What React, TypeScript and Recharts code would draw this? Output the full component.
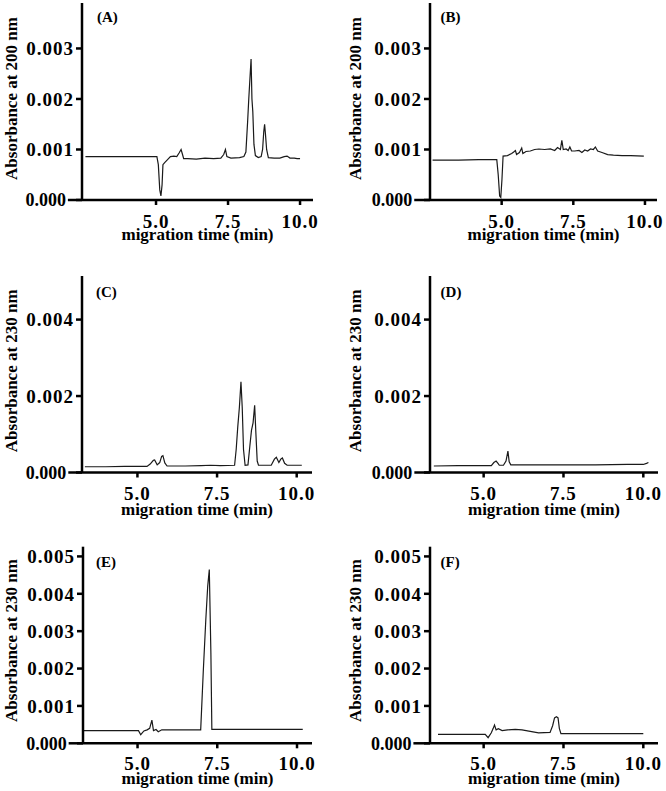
import React from 'react';
import { LineChart, Line, XAxis, YAxis, ReferenceLine } from 'recharts';

// ---------- data (migration time in min, absorbance) ----------
const timeA = [2.55, 3.2, 4.0, 4.6, 5.03, 5.08, 5.13, 5.17, 5.21, 5.24, 5.3, 5.4, 5.5, 5.62, 5.72, 5.8, 5.87, 5.92, 5.96, 6.1, 6.4, 6.7, 7.0, 7.25, 7.35, 7.41, 7.46, 7.6, 7.9, 8.05, 8.12, 8.18, 8.22, 8.26, 8.3, 8.33, 8.36, 8.4, 8.45, 8.55, 8.65, 8.7, 8.74, 8.77, 8.8, 8.84, 8.9, 9.1, 9.3, 9.45, 9.55, 9.65, 9.8, 9.9, 10.0];
const absA = [0.00086, 0.00086, 0.00086, 0.00086, 0.00086, 0.0007, 0.0002, 0.00008, 0.0003, 0.0007, 0.00074, 0.0008, 0.00086, 0.00087, 0.00086, 0.00093, 0.001, 0.0009, 0.00082, 0.00082, 0.00081, 0.00083, 0.00082, 0.00083, 0.0009, 0.001, 0.00086, 0.00083, 0.00084, 0.00086, 0.00095, 0.00155, 0.002, 0.0024, 0.00279, 0.002, 0.00175, 0.0011, 0.00088, 0.00084, 0.00086, 0.001, 0.00135, 0.0015, 0.0013, 0.001, 0.00084, 0.00083, 0.00083, 0.00086, 0.00087, 0.00083, 0.00083, 0.00082, 0.00082];

const timeB = [2.59, 3.5, 4.2, 4.83, 4.88, 4.93, 4.97, 5.01, 5.05, 5.2, 5.35, 5.42, 5.48, 5.52, 5.62, 5.7, 5.74, 5.85, 6.0, 6.15, 6.3, 6.5, 6.7, 6.85, 6.95, 7.05, 7.1, 7.15, 7.25, 7.32, 7.38, 7.44, 7.55, 7.7, 7.8, 7.9, 8.0, 8.1, 8.2, 8.27, 8.35, 8.5, 8.7, 8.9, 9.2, 9.5, 9.96];
const absB = [0.00079, 0.00079, 0.0008, 0.0008, 0.0005, 0.00008, 0.00005, 0.0004, 0.00087, 0.00088, 0.00092, 0.00095, 0.00098, 0.0009, 0.00094, 0.00103, 0.00092, 0.00096, 0.00097, 0.001, 0.00101, 0.001, 0.00101, 0.00098, 0.00104, 0.001, 0.00118, 0.001, 0.00101, 0.00098, 0.00105, 0.00097, 0.00097, 0.00098, 0.00094, 0.00099, 0.00097, 0.00101, 0.001, 0.00105, 0.00097, 0.00094, 0.0009, 0.00089, 0.00088, 0.00088, 0.00087];

const timeC = [3.35, 4.0, 4.6, 5.3, 5.4, 5.5, 5.54, 5.62, 5.7, 5.76, 5.8, 5.86, 5.93, 6.5, 7.0, 7.3, 7.6, 8.05, 8.1, 8.15, 8.2, 8.25, 8.29, 8.33, 8.38, 8.47, 8.53, 8.58, 8.63, 8.68, 8.72, 8.76, 8.8, 9.2, 9.3, 9.36, 9.44, 9.5, 9.55, 9.62, 9.7, 10.16];
const absC = [0.00015, 0.00015, 0.00016, 0.00016, 0.00022, 0.00032, 0.00033, 0.0002, 0.00026, 0.00042, 0.00044, 0.00025, 0.00017, 0.00017, 0.00018, 0.00019, 0.00018, 0.00019, 0.0006, 0.0012, 0.0017, 0.00237, 0.0017, 0.0006, 0.00019, 0.0002, 0.0007, 0.0011, 0.0013, 0.00176, 0.001, 0.0003, 0.00019, 0.00019, 0.00035, 0.0004, 0.00026, 0.00035, 0.00038, 0.00024, 0.00019, 0.00019];

const timeD = [3.44, 4.2, 5.24, 5.32, 5.39, 5.45, 5.49, 5.62, 5.7, 5.76, 5.8, 5.85, 6.6, 7.5, 8.5, 9.5, 10.0, 10.1, 10.16];
const absD = [0.00017, 0.00018, 0.00018, 0.00026, 0.0003, 0.00024, 0.00019, 0.00019, 0.0003, 0.00056, 0.00028, 0.0002, 0.0002, 0.0002, 0.0002, 0.00021, 0.00021, 0.00024, 0.00026];

const timeE = [3.29, 4.2, 5.03, 5.1, 5.2, 5.3, 5.38, 5.45, 5.5, 5.58, 5.65, 5.76, 6.2, 6.98, 7.06, 7.14, 7.2, 7.25, 7.3, 7.33, 8.5, 10.18];
const absE = [0.00034, 0.00034, 0.00034, 0.00023, 0.00033, 0.00036, 0.0004, 0.00062, 0.00034, 0.00037, 0.00031, 0.00036, 0.00036, 0.00036, 0.0019, 0.0033, 0.0042, 0.00465, 0.0024, 0.00037, 0.00037, 0.00037];

const timeF = [3.57, 4.5, 5.05, 5.14, 5.24, 5.3, 5.34, 5.39, 5.46, 5.58, 5.75, 5.99, 6.2, 6.46, 6.72, 7.08, 7.16, 7.22, 7.28, 7.33, 7.37, 7.42, 8.5, 10.0];
const absF = [0.00024, 0.00024, 0.00024, 0.00015, 0.00028, 0.0004, 0.00049, 0.00036, 0.00039, 0.00034, 0.00036, 0.00037, 0.00036, 0.00032, 0.00028, 0.00029, 0.00047, 0.00068, 0.00071, 0.00068, 0.0004, 0.00026, 0.00026, 0.00026];

const xTicks = [5, 7.5, 10];
const yTicks200 = [0, 0.001, 0.002, 0.003];
const yTicks230a = [0, 0.002, 0.004];
const yTicks230b = [0, 0.001, 0.002, 0.003, 0.004, 0.005];
const panelNames = ['(A)', '(B)', '(C)', '(D)', '(E)', '(F)'];
const yTitles = ['Absorbance at 200 nm', 'Absorbance at 230 nm'];
const xTitle = 'migration time (min)';

// ---------- layout ----------
const FONT = '"Liberation Serif", "Times New Roman", Times, serif';

type Cfg = {
  name: string; yTitle: string; times: number[]; values: number[];
  left: number; top: number; width: number; height: number;
  mTop: number; mRight: number; yW: number; xH: number;
  xMin: number; xMax: number; ext: number; yMax: number; yTicks: number[];
  titleBase: number; xTickMargin: number; yLabX: number; yLabDy: number; pDx: number; pDy: number;
};

const panels: Cfg[] = [
  { name: panelNames[0], yTitle: yTitles[0], times: timeA, values: absA, left: 0, top: 0, width: 333, height: 260, mTop: 3, mRight: 20, yW: 82, xH: 60, xMin: 2.43, xMax: 10.45, ext: 1.94, yMax: 0.0039, yTicks: yTicks200, titleBase: 40, xTickMargin: 10, yLabX: 16.5, yLabDy: -3, pDx: 15, pDy: 19 },
  { name: panelNames[1], yTitle: yTitles[0], times: timeB, values: absB, left: 333, top: 0, width: 333, height: 260, mTop: 3, mRight: 9, yW: 97, xH: 60, xMin: 2.5, xMax: 10.42, ext: 1.95, yMax: 0.0039, yTicks: yTicks200, titleBase: 40, xTickMargin: 10, yLabX: 28.3, yLabDy: -3, pDx: 10.6, pDy: 19 },
  { name: panelNames[2], yTitle: yTitles[1], times: timeC, values: absC, left: 0, top: 260, width: 333, height: 265, mTop: 16, mRight: 21, yW: 82, xH: 52.5, xMin: 3.26, xMax: 10.48, ext: 2.83, yMax: 0.00514, yTicks: yTicks230a, titleBase: 42.5, xTickMargin: 9, yLabX: 16.5, yLabDy: -3.5, pDx: 14, pDy: 21 },
  { name: panelNames[3], yTitle: yTitles[1], times: timeD, values: absD, left: 333, top: 260, width: 333, height: 265, mTop: 16, mRight: 8, yW: 97, xH: 52.5, xMin: 3.32, xMax: 10.46, ext: 2.83, yMax: 0.00514, yTicks: yTicks230a, titleBase: 42.5, xTickMargin: 9, yLabX: 28.3, yLabDy: -3.5, pDx: 10.6, pDy: 21 },
  { name: panelNames[4], yTitle: yTitles[1], times: timeE, values: absE, left: 0, top: 525, width: 333, height: 266, mTop: 21.7, mRight: 21, yW: 83, xH: 47.7, xMin: 3.29, xMax: 10.47, ext: 2.84, yMax: 0.00526, yTicks: yTicks230b, titleBase: 40.2, xTickMargin: 8, yLabX: 16.5, yLabDy: -4.5, pDx: 13, pDy: 20 },
  { name: panelNames[5], yTitle: yTitles[1], times: timeF, values: absF, left: 333, top: 525, width: 333, height: 266, mTop: 21.7, mRight: 8, yW: 97, xH: 47.7, xMin: 3.32, xMax: 10.46, ext: 2.8, yMax: 0.00526, yTicks: yTicks230b, titleBase: 40.2, xTickMargin: 8, yLabX: 28.3, yLabDy: -4.5, pDx: 10.6, pDy: 20 },
];

const tickStyle = { fill: '#000', fontSize: 19, fontWeight: 'bold', fontFamily: FONT, letterSpacing: 1 };
const Y_TICK_SIZE = 6;
const Y_TICK_MARGIN = 2;

function YTick(props: any) {
  const { x, y, payload, cfg } = props;
  const v = payload.value as number;
  const label = v.toFixed(3);
  if (v === 0) {
    // zero label sits left of the x-axis line's extension
    const plotW = cfg.width - cfg.yW - cfg.mRight;
    const extPx = ((cfg.xMin - cfg.ext) / (cfg.xMax - cfg.xMin)) * plotW;
    const axisX = x + Y_TICK_SIZE + Y_TICK_MARGIN;
    return (
      <text x={axisX - extPx - 2} y={y} dy="0.355em" textAnchor="end" fill="#000"
        style={{ fontFamily: FONT, fontSize: 18, fontWeight: 'bold' }}>{label}</text>
    );
  }
  return (
    <text x={x} y={y} dy="0.355em" textAnchor="end" fill="#000"
      style={{ fontFamily: FONT, fontSize: 19, fontWeight: 'bold', letterSpacing: 1 }}>{label}</text>
  );
}

function Panel({ cfg }: { cfg: Cfg }) {
  const data = cfg.times.map((t, i) => ({ t, v: cfg.values[i] }));
  const xLabel = (p: any) => {
    const vb = p.viewBox || {};
    return (
      <text x={vb.x + vb.width / 2} y={vb.y + cfg.titleBase} textAnchor="middle" fill="#000"
        style={{ fontFamily: FONT, fontSize: 17, fontWeight: 'bold' }}>{xTitle}</text>
    );
  };
  const yLabel = (p: any) => {
    const vb = p.viewBox || {};
    const lx = vb.x + cfg.yLabX;
    const cy = vb.y + vb.height / 2 + cfg.yLabDy;
    return (
      <g>
        <text x={lx} y={cy} transform={`rotate(-90, ${lx}, ${cy})`} textAnchor="middle" fill="#000"
          style={{ fontFamily: FONT, fontSize: 17, fontWeight: 'bold' }}>{cfg.yTitle}</text>
        <text x={vb.x + vb.width + cfg.pDx} y={vb.y + cfg.pDy} textAnchor="start" fill="#000"
          style={{ fontFamily: FONT, fontSize: 15, fontWeight: 'bold' }}>{cfg.name}</text>
      </g>
    );
  };
  return (
    <div style={{ position: 'absolute', left: cfg.left, top: cfg.top }}>
      <LineChart width={cfg.width} height={cfg.height} data={data}
        margin={{ top: cfg.mTop, right: cfg.mRight, left: 0, bottom: 0 }}>
        <XAxis type="number" dataKey="t" domain={[cfg.xMin, cfg.xMax]} allowDataOverflow
          ticks={xTicks} interval={0} tickFormatter={(v: number) => v.toFixed(1)}
          height={cfg.xH} stroke="#000" strokeWidth={2.5} tickSize={5} tickMargin={cfg.xTickMargin}
          tick={tickStyle} label={{ content: xLabel }} />
        <YAxis type="number" domain={[0, cfg.yMax]} allowDataOverflow ticks={cfg.yTicks} interval={0}
          width={cfg.yW} stroke="#000" strokeWidth={2.5}
          tickSize={Y_TICK_SIZE} tickMargin={Y_TICK_MARGIN}
          tick={(p: any) => <YTick {...p} cfg={cfg} />} label={{ content: yLabel }} />
        <ReferenceLine segment={[{ x: cfg.ext, y: 0 }, { x: cfg.xMin, y: 0 }]} stroke="#000"
          strokeWidth={2.5} ifOverflow="visible" />
        <Line type="linear" dataKey="v" stroke="#1a1a1a" strokeWidth={1.2} dot={false}
          isAnimationActive={false} />
      </LineChart>
    </div>
  );
}

export default function App() {
  return (
    <div style={{ position: 'absolute', left: 0, top: 0, width: 666, height: 791, background: '#fff' }}>
      {panels.map((c) => <Panel key={c.name} cfg={c} />)}
    </div>
  );
}
